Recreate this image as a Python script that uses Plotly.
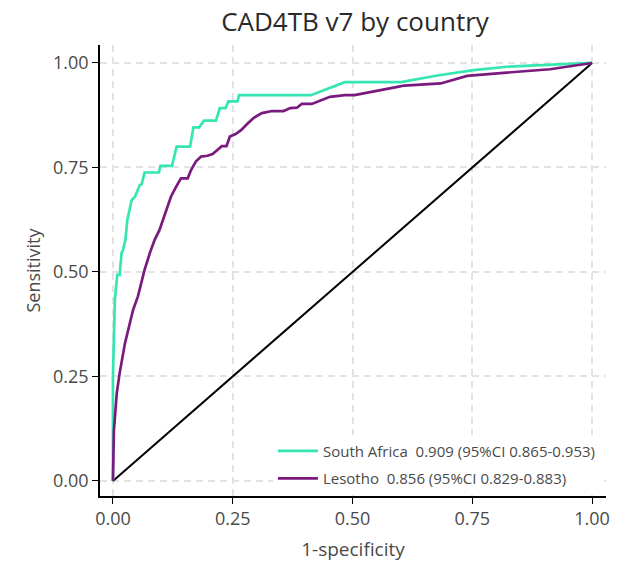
import plotly.graph_objects as go

sa_fpr = [0.0, 0.0, 0.004, 0.009, 0.014, 0.018, 0.021, 0.026, 0.030, 0.037, 0.039, 0.046, 0.056, 0.060,
          0.066, 0.096, 0.099, 0.123, 0.133, 0.161, 0.168, 0.180, 0.190, 0.215, 0.223, 0.235, 0.241,
          0.260, 0.263, 0.413, 0.484, 0.601, 0.677, 0.753, 0.822, 1.0]
sa_tpr = [0.0, 0.25, 0.433, 0.493, 0.493, 0.545, 0.553, 0.577, 0.624, 0.660, 0.672, 0.680, 0.708, 0.710,
          0.738, 0.738, 0.754, 0.754, 0.800, 0.800, 0.846, 0.846, 0.862, 0.862, 0.892, 0.892, 0.908,
          0.908, 0.923, 0.923, 0.954, 0.954, 0.970, 0.983, 0.991, 1.0]

le_fpr = [0.0, 0.002, 0.008, 0.014, 0.025, 0.032, 0.042, 0.052, 0.059, 0.066, 0.077, 0.087, 0.097, 0.104,
          0.114, 0.121, 0.132, 0.142, 0.156, 0.163, 0.173, 0.184, 0.197, 0.208, 0.218, 0.227, 0.237,
          0.244, 0.256, 0.268, 0.280, 0.294, 0.311, 0.332, 0.356, 0.370, 0.384, 0.394, 0.415, 0.435,
          0.453, 0.484, 0.504, 0.594, 0.608, 0.684, 0.739, 0.822, 0.912, 1.0]
le_tpr = [0.0, 0.12, 0.210, 0.258, 0.329, 0.361, 0.409, 0.441, 0.473, 0.505, 0.545, 0.577, 0.600, 0.624,
          0.656, 0.680, 0.704, 0.724, 0.724, 0.744, 0.764, 0.776, 0.778, 0.782, 0.792, 0.801, 0.801,
          0.824, 0.830, 0.840, 0.854, 0.869, 0.880, 0.885, 0.885, 0.892, 0.893, 0.902, 0.902, 0.911,
          0.919, 0.923, 0.923, 0.943, 0.946, 0.951, 0.969, 0.977, 0.985, 1.0]

ref_x = [0.0, 1.0]
ref_y = [0.0, 1.0]

names = ["South Africa  0.909 (95%CI 0.865-0.953)", "Lesotho  0.856 (95%CI 0.829-0.883)"]
ticks = [0.0, 0.25, 0.5, 0.75, 1.0]
tick_labels = ["0.00", "0.25", "0.50", "0.75", "1.00"]

FONT = "Open Sans"
TXT = "#4a4a4a"

fig = go.Figure()
fig.add_trace(go.Scatter(x=ref_x, y=ref_y, mode="lines", line=dict(color="black", width=2),
                         showlegend=False, hoverinfo="skip"))
fig.add_trace(go.Scatter(x=sa_fpr, y=sa_tpr, mode="lines", name=names[0], legendgroup="a", legendrank=1,
                         line=dict(color="#35e6b3", width=2.7)))
fig.add_trace(go.Scatter(x=le_fpr, y=le_tpr, mode="lines", name=names[1], legendgroup="b", legendrank=2,
                         line=dict(color="#7b1a7e", width=2.7)))

axis_common = dict(
    tickvals=ticks, ticktext=tick_labels, showgrid=True, gridcolor="#e3e3e3", gridwidth=1.5,
    griddash="7px,5px", zeroline=False, showline=True, linecolor="black", linewidth=1.5,
    ticks="outside", ticklen=6, tickcolor="black", tickwidth=1.2,
    tickfont=dict(family=FONT, size=18, color=TXT),
)

fig.update_layout(
    width=617, height=570,
    paper_bgcolor="white", plot_bgcolor="white",
    margin=dict(l=100, r=7, t=45, b=74),
    title=dict(text="CAD4TB v7 by country", x=355 / 617, xanchor="center",
               y=1 - 22 / 570, yanchor="middle", font=dict(family=FONT, size=26, color="#2a2a2a")),
    xaxis=dict(range=[-0.027, 1.029], title=dict(text="1-specificity", font=dict(family=FONT, size=19, color=TXT),
                                                 standoff=13), **axis_common),
    yaxis=dict(range=[-0.036, 1.043], title=dict(text="Sensitivity", font=dict(family=FONT, size=18, color=TXT),
                                                 standoff=8), **axis_common),
    legend=dict(x=0.99, y=0.003, xanchor="right", yanchor="bottom", bgcolor="rgba(255,255,255,1)",
                font=dict(family=FONT, size=15, color=TXT), traceorder="grouped",
                tracegroupgap=5, itemwidth=40),
)

fig.write_html("out.html")
